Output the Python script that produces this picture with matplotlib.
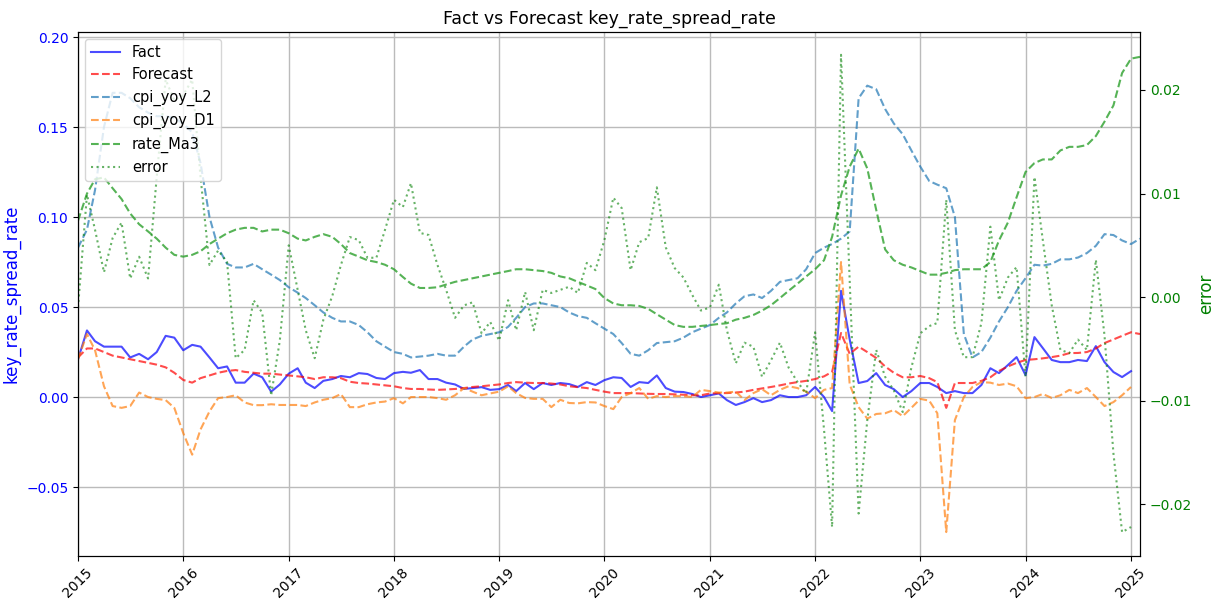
import numpy as np
import pandas as pd
import matplotlib
matplotlib.use("Agg")
import matplotlib.pyplot as plt
import matplotlib.dates as mdates

nan = np.nan
dates = pd.date_range("2015-01-01", periods=122, freq="MS")

fact = [
    0.021, 0.037, 0.031, 0.028, 0.028, 0.028, 0.022, 0.024, 0.021, 0.025, 0.034, 0.033,
    0.026, 0.029, 0.028, 0.022, 0.016, 0.017, 0.008, 0.008, 0.013, 0.011, 0.003, 0.007,
    0.013, 0.016, 0.008, 0.005, 0.009, 0.010, 0.0117, 0.011, 0.0133, 0.0128, 0.0106, 0.010,
    0.0133, 0.014, 0.0135, 0.015, 0.010, 0.010, 0.008, 0.007, 0.0045, 0.005, 0.0055, 0.004,
    0.0044, 0.0067, 0.0033, 0.0078, 0.0044, 0.0078, 0.0067, 0.0078, 0.0072, 0.0056, 0.0083, 0.0067,
    0.0094, 0.011, 0.0106, 0.0056, 0.0083, 0.0078, 0.012, 0.005, 0.003, 0.0028, 0.0017, 0.0,
    0.001, 0.002, -0.0017, -0.0044, -0.0028, -0.0006, -0.0028, -0.0017, 0.001, 0.0, 0.0, 0.001,
    0.0056, 0.0, -0.0078, 0.059, 0.032, 0.0078, 0.0089, 0.0133, 0.0067, 0.0044, 0.0, 0.0033,
    0.0078, 0.0078, 0.0056, 0.0022, 0.0033, 0.0022, 0.0022, 0.0067, 0.016, 0.0133, 0.0178, 0.0222,
    0.0122, 0.0333, 0.0272, 0.0206, 0.0194, 0.0194, 0.0206, 0.020, 0.0283, 0.0194, 0.0139, 0.0111,
    0.0144, nan]

forecast = [
    0.022, 0.027, 0.027, 0.025, 0.023, 0.022, 0.021, 0.020, 0.019, 0.018, 0.0165, 0.0135,
    0.0095, 0.008, 0.0105, 0.012, 0.0135, 0.0145, 0.015, 0.014, 0.0135, 0.013, 0.013, 0.0125,
    0.012, 0.0115, 0.011, 0.010, 0.011, 0.011, 0.0105, 0.0085, 0.0078, 0.0075, 0.007, 0.0065,
    0.006, 0.005, 0.0045, 0.0045, 0.0042, 0.004, 0.0042, 0.0045, 0.005, 0.0056, 0.006, 0.0065,
    0.007, 0.0078, 0.0083, 0.008, 0.0078, 0.0078, 0.0075, 0.007, 0.006, 0.0055, 0.005, 0.004,
    0.003, 0.0022, 0.0022, 0.0022, 0.002, 0.0018, 0.0017, 0.0017, 0.0015, 0.0013, 0.001, 0.001,
    0.002, 0.0022, 0.0022, 0.0025, 0.003, 0.004, 0.0048, 0.0056, 0.0065, 0.0075, 0.0083, 0.009,
    0.010, 0.0115, 0.014, 0.0356, 0.024, 0.028, 0.025, 0.0217, 0.017, 0.0135, 0.011, 0.011,
    0.0117, 0.0105, 0.0083, -0.006, 0.0078, 0.0078, 0.0078, 0.009, 0.011, 0.0145, 0.017, 0.019,
    0.0206, 0.021, 0.0215, 0.0222, 0.023, 0.0244, 0.0245, 0.025, 0.027, 0.030, 0.032, 0.034,
    0.036, 0.035]

cpi_yoy_L2 = [
    0.083, 0.093, 0.115, 0.150, 0.169, 0.169, 0.166, 0.161, 0.158, 0.156, 0.156, 0.155,
    0.152, 0.147, 0.130, 0.100, 0.083, 0.074, 0.072, 0.072, 0.074, 0.071, 0.068, 0.065,
    0.061, 0.058, 0.055, 0.051, 0.047, 0.044, 0.042, 0.042, 0.040, 0.036, 0.031, 0.028,
    0.025, 0.024, 0.022, 0.0225, 0.023, 0.024, 0.023, 0.023, 0.028, 0.032, 0.034, 0.035,
    0.036, 0.039, 0.044, 0.050, 0.052, 0.052, 0.051, 0.050, 0.047, 0.045, 0.044, 0.041,
    0.038, 0.035, 0.030, 0.024, 0.023, 0.026, 0.030, 0.0305, 0.031, 0.033, 0.036, 0.038,
    0.040, 0.044, 0.047, 0.052, 0.056, 0.057, 0.055, 0.059, 0.064, 0.065, 0.066, 0.071,
    0.080, 0.083, 0.085, 0.088, 0.092, 0.166, 0.173, 0.171, 0.160, 0.152, 0.146, 0.137,
    0.128, 0.120, 0.118, 0.116, 0.100, 0.035, 0.022, 0.025, 0.033, 0.042, 0.050, 0.059,
    0.066, 0.0735, 0.073, 0.074, 0.0765, 0.0765, 0.0775, 0.080, 0.084, 0.0905, 0.090, 0.087,
    0.085, 0.088]

cpi_yoy_D1 = [
    0.021, 0.035, 0.026, 0.006, -0.005, -0.006, -0.005, 0.0025, 0.0, -0.001, -0.0017, -0.006,
    -0.020, -0.032, -0.018, -0.008, -0.0006, 0.0, 0.001, -0.003, -0.0045, -0.0045, -0.004, -0.0044,
    -0.0044, -0.0044, -0.005, -0.003, -0.0015, -0.0006, 0.0017, -0.0056, -0.0056, -0.004, -0.003, -0.0025,
    -0.0006, -0.0035, 0.0, 0.0, 0.0, -0.0006, -0.0015, 0.001, 0.005, 0.003, 0.001, 0.002,
    0.003, 0.006, 0.0022, -0.0005, -0.001, -0.001, -0.0056, -0.0015, -0.0033, -0.0035, -0.0028, -0.003,
    -0.005, -0.0067, 0.0, 0.0022, 0.005, -0.001, 0.0005, 0.0, 0.0005, 0.0005, 0.0, 0.004,
    0.0033, 0.0025, 0.0025, 0.003, -0.0017, 0.0022, 0.0044, 0.001, 0.004, 0.006, 0.005, 0.003,
    -0.0006, 0.004, 0.005, 0.075, 0.007, -0.0056, -0.012, -0.0094, -0.009, -0.0072, -0.0106, -0.006,
    -0.001, -0.002, -0.009, -0.075, -0.0128, 0.0, 0.0056, 0.0083, 0.008, 0.0067, 0.0075, 0.006,
    -0.0006, 0.0, 0.0017, -0.0005, 0.001, 0.004, 0.0022, 0.005, 0.0, -0.005, -0.0028, 0.001,
    0.0056, nan]

rate_Ma3 = [
    0.098, 0.113, 0.121, 0.122, 0.116, 0.110, 0.102, 0.096, 0.092, 0.088, 0.083, 0.079,
    0.078, 0.079, 0.081, 0.085, 0.088, 0.091, 0.093, 0.094, 0.094, 0.092, 0.093, 0.093,
    0.091, 0.088, 0.087, 0.089, 0.0905, 0.089, 0.085, 0.080, 0.078, 0.076, 0.075, 0.0735,
    0.071, 0.0667, 0.063, 0.0606, 0.0606, 0.061, 0.0625, 0.064, 0.065, 0.066, 0.067, 0.068,
    0.069, 0.070, 0.071, 0.071, 0.0705, 0.070, 0.069, 0.067, 0.066, 0.064, 0.062, 0.060,
    0.055, 0.052, 0.051, 0.051, 0.0506, 0.049, 0.046, 0.043, 0.040, 0.039, 0.039, 0.0395,
    0.040, 0.0406, 0.041, 0.043, 0.044, 0.0456, 0.048, 0.051, 0.055, 0.059, 0.063, 0.067,
    0.071, 0.076, 0.089, 0.112, 0.128, 0.138, 0.127, 0.104, 0.082, 0.076, 0.0735, 0.072,
    0.070, 0.068, 0.068, 0.069, 0.0705, 0.071, 0.071, 0.071, 0.075, 0.087, 0.097, 0.111,
    0.125, 0.130, 0.132, 0.132, 0.137, 0.139, 0.139, 0.140, 0.145, 0.153, 0.162, 0.180,
    0.188, 0.189]

error = [
    -0.001, 0.0099, 0.0065, 0.0024, 0.0057, 0.0072, 0.0018, 0.0039, 0.0018, 0.0116, 0.021, 0.019,
    0.0195, 0.021, 0.0116, 0.0031, 0.0045, 0.0034, -0.0059, -0.0051, -0.0003, -0.0015, -0.0095, -0.0042,
    0.005, 0.0007, -0.0032, -0.0059, -0.0022, 0.0001, 0.0031, 0.0058, 0.0055, 0.0038, 0.0038, 0.0065,
    0.0094, 0.0087, 0.011, 0.0062, 0.006, 0.0031, 0.0007, -0.002, -0.0008, -0.0005, -0.0035, -0.0024,
    -0.0042, -0.0003, -0.0032, 0.0005, -0.0032, 0.0007, 0.0004, 0.0007, 0.001, 0.0004, 0.0033, 0.0026,
    0.0055, 0.0096, 0.0086, 0.0026, 0.0053, 0.0057, 0.0106, 0.0048, 0.0028, 0.0019, 0.0002, -0.0013,
    -0.001, 0.0012, -0.0032, -0.0064, -0.0044, -0.0048, -0.0077, -0.0061, -0.0044, -0.0068, -0.0082, -0.0093,
    -0.0034, -0.0128, -0.0222, 0.0234, 0.0016, -0.0209, -0.0119, -0.0051, -0.0077, -0.009, -0.0111, -0.0068,
    -0.0035, -0.0028, -0.0025, 0.0094, -0.0032, -0.0058, -0.0058, -0.0025, 0.0068, -0.0003, 0.0019, 0.0029,
    -0.0077, 0.0116, 0.0055, -0.0008, -0.0051, -0.0054, -0.0041, -0.0051, 0.0036, -0.0037, -0.0151, -0.0227,
    -0.0222, nan]

fig = plt.figure(figsize=(12.23, 6.06), dpi=100)
ax = fig.add_axes([0.0638, 0.0825, 0.8683, 0.8647])

l1, = ax.plot(dates, fact, color="b", alpha=0.7, lw=1.5, label="Fact")
l2, = ax.plot(dates, forecast, "r--", alpha=0.7, lw=1.5, label="Forecast")
l3, = ax.plot(dates, cpi_yoy_L2, "--", color="tab:blue", alpha=0.7, lw=1.5, label="cpi_yoy_L2")
l4, = ax.plot(dates, cpi_yoy_D1, "--", color="tab:orange", alpha=0.7, lw=1.5, label="cpi_yoy_D1")
l5, = ax.plot(dates, rate_Ma3, "--", color="tab:green", alpha=0.8, lw=1.5, label="rate_Ma3")

ax.set_ylim(-0.0883, 0.2028)
ax.set_xlim(dates[0], dates[-1])
ax.set_ylabel("key_rate_spread_rate", color="b", fontsize=12)
ax.tick_params(axis="y", labelcolor="b")
ax.grid(True, color="#bbbbbb", lw=1)
ax.xaxis.set_major_locator(mdates.YearLocator())
ax.xaxis.set_major_formatter(mdates.DateFormatter("%Y"))
for t in ax.get_xticklabels():
    t.set_rotation(45)

ax2 = ax.twinx()
l6, = ax2.plot(dates, error, ":", color="g", alpha=0.6, lw=1.5, label="error")
ax2.set_ylim(-0.0250, 0.0256)
ax2.set_ylabel("error", color="g", fontsize=12)
ax2.tick_params(axis="y", labelcolor="g")

ax.set_title("Fact vs Forecast key_rate_spread_rate", fontsize=12.5)
ax2.legend([l1, l2, l3, l4, l5, l6], [l.get_label() for l in [l1, l2, l3, l4, l5, l6]],
           loc="upper left", fontsize=10.5)

fig.savefig("out.png", dpi=100)
